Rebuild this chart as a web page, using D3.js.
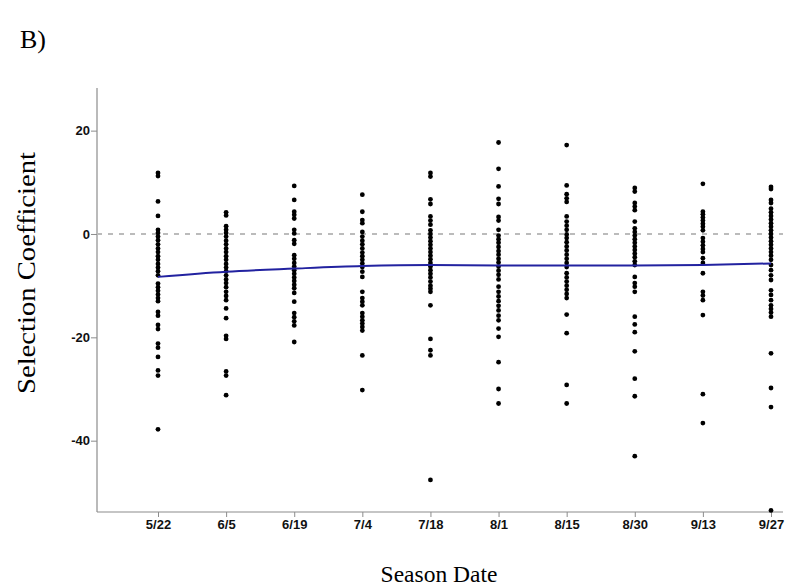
<!DOCTYPE html>
<html>
<head>
<meta charset="utf-8">
<script src="https://cdn.jsdelivr.net/npm/d3@7"></script>
<style>
  body { margin: 0; background: #fff; }
  .tick text { font-family: "Liberation Sans", Arial, sans-serif; font-weight: bold; font-size: 13px; fill: #111; }
  .titulo { font-family: "Liberation Serif", "Times New Roman", serif; fill: #000; }
</style>
</head>
<body>
<script>
// fechas de muestreo (eje x)
var fechas = ["5/22", "6/5", "6/19", "7/4", "7/18", "8/1", "8/15", "8/30", "9/13", "9/27"]

// coeficientes de seleccion por fecha
var s_0522 = [11.8, 11.2, 6.3, 3.5, 0.8, 0.2, -0.5, -1.2, -2.0, -2.8, -3.5, -4.3, -5.0, -5.8, -6.5, -7.2, -8.0, -9.6, -10.3, -11.0, -11.7, -12.4, -13.0, -15.1, -15.8, -17.6, -18.4, -21.2, -22.0, -23.8, -26.4, -27.4, -37.8]
var s_0605 = [4.2, 3.6, 1.5, 0.8, 0.2, -0.5, -1.3, -2.0, -2.8, -3.5, -4.3, -5.0, -5.8, -6.5, -7.2, -8.0, -8.8, -9.5, -10.3, -11.2, -12.0, -12.8, -14.4, -16.3, -19.7, -20.3, -26.6, -27.4, -31.2]
var s_0619 = [9.3, 6.6, 4.3, 3.7, 3.0, 0.8, 0.1, -1.2, -1.9, -4.1, -4.8, -5.6, -6.3, -7.0, -7.7, -8.4, -9.1, -9.8, -10.5, -11.4, -13.1, -15.3, -16.1, -16.9, -17.7, -20.9]
var s_0704 = [7.6, 4.3, 2.7, 2.1, 0.4, -0.5, -1.3, -2.0, -2.8, -3.6, -4.3, -5.0, -5.7, -6.4, -7.3, -8.3, -11.2, -12.4, -13.1, -13.8, -15.3, -16.0, -16.7, -17.3, -18.0, -18.7, -23.5, -30.2]
var s_0718 = [11.8, 11.1, 6.7, 5.8, 3.4, 2.6, 1.8, 0.7, 0.0, -0.7, -1.4, -2.1, -2.8, -3.5, -4.2, -4.9, -5.6, -6.3, -7.0, -7.7, -8.4, -9.2, -10.0, -10.6, -11.2, -13.8, -20.3, -22.5, -23.5, -47.6]
var s_0801 = [17.7, 12.6, 9.2, 6.8, 5.8, 3.3, 2.6, 0.8, -0.3, -1.0, -1.7, -2.5, -3.3, -4.0, -4.8, -5.5, -6.3, -7.1, -7.9, -8.8, -10.2, -11.2, -12.1, -13.0, -13.9, -14.8, -15.8, -16.7, -18.3, -19.9, -24.8, -30.0, -32.8]
var s_0815 = [17.2, 9.4, 7.7, 6.9, 6.2, 3.4, 2.4, 1.6, 0.8, -0.1, -0.8, -1.6, -2.4, -3.2, -4.0, -4.8, -5.6, -6.4, -7.6, -8.4, -9.2, -10.0, -10.8, -11.6, -12.4, -15.6, -19.2, -29.2, -32.8]
var s_0830 = [8.9, 8.2, 6.0, 5.3, 4.6, 2.4, 1.1, 0.4, -0.3, -1.0, -1.7, -2.4, -3.1, -3.8, -4.5, -5.3, -6.0, -8.3, -9.5, -10.2, -11.2, -16.0, -17.5, -19.0, -22.7, -28.0, -31.4, -43.0]
var s_0913 = [9.7, 4.3, 3.8, 3.2, 2.6, 2.0, 1.4, 0.7, -0.8, -1.5, -2.2, -2.9, -3.5, -4.7, -5.6, -7.6, -11.2, -11.9, -12.8, -15.7, -31.0, -36.6]
var s_0927 = [9.1, 8.7, 6.6, 6.0, 4.9, 4.2, 3.5, 2.8, 2.1, 1.4, 0.7, 0.0, -0.7, -1.4, -2.1, -2.8, -3.5, -4.2, -5.0, -6.0, -7.0, -8.0, -8.9, -10.9, -11.8, -12.8, -13.8, -14.5, -15.2, -16.0, -23.1, -29.8, -33.5, -53.5]

// curva ajustada (media suavizada) por fecha
var ajuste = [-8.3, -7.3, -6.7, -6.2, -6.0, -6.1, -6.1, -6.1, -6.0, -5.7]

// ticks del eje y
var ticksY = [-40, -20, 0, 20]

var series = [s_0522, s_0605, s_0619, s_0704, s_0718, s_0801, s_0815, s_0830, s_0913, s_0927]

// tabla larga fecha / valor para los puntos
var puntos = []
series.forEach(function (vals, i) {
    vals.forEach(function (v) { puntos.push({fecha: fechas[i], valor: v}) })
})

var ancho = 811, alto = 587
var margin = {top: 88, right: 28, bottom: 75, left: 97}
var width = ancho - margin.left - margin.right
var height = alto - margin.top - margin.bottom

var svg = d3.select("body")
    .append("svg")
        .attr("width", ancho)
        .attr("height", alto)

var g = svg.append("g")
    .attr("transform", "translate(" + margin.left + "," + margin.top + ")")

// EJE X
var x = d3.scalePoint()
    .domain(fechas)
    .range([61, width - 12])

// EJE Y
var y = d3.scaleLinear()
    .domain([-53.8, 28.25])
    .range([height, 0])

var ejeX = g.append("g")
    .attr("transform", "translate(0," + height + ")")
    .call(d3.axisBottom(x).tickSize(5).tickPadding(3))
ejeX.select(".domain").remove()

// guion normal en los negativos
var ejeY = g.append("g")
    .call(d3.axisLeft(y).tickValues(ticksY).tickSize(6).tickPadding(1).tickFormat(d => String(d)))
ejeY.select(".domain").remove()

g.selectAll(".tick line").attr("stroke", "#8c8c8c")

// lineas de los ejes
g.append("line")
    .attr("x1", 0).attr("x2", width)
    .attr("y1", height).attr("y2", height)
    .attr("stroke", "#8c8c8c").attr("stroke-width", 1.2)
g.append("line")
    .attr("x1", 0).attr("x2", 0)
    .attr("y1", 0).attr("y2", height)
    .attr("stroke", "#8c8c8c").attr("stroke-width", 1.2)

// referencia en cero
g.append("line")
    .attr("x1", 0).attr("x2", width)
    .attr("y1", y(0)).attr("y2", y(0))
    .attr("stroke", "#bbbbbb")
    .attr("stroke-width", 2)
    .attr("stroke-dasharray", "5,6")

// puntos
g.append("g")
    .selectAll("circle")
    .data(puntos)
    .enter()
    .append("circle")
        .attr("cx", d => x(d.fecha))
        .attr("cy", d => y(d.valor))
        .attr("r", 2.4)
        .attr("fill", "#000")

// curva ajustada
var linea = d3.line()
    .x((d, i) => x(fechas[i]))
    .y(d => y(d))
    .curve(d3.curveMonotoneX)

g.append("path")
    .datum(ajuste)
    .attr("fill", "none")
    .attr("stroke", "#2222a0")
    .attr("stroke-width", 2)
    .attr("d", linea)

// textos
svg.append("text")
    .attr("class", "titulo")
    .attr("x", 20)
    .attr("y", 48)
    .style("font-size", "26px")
    .text("B)")

svg.append("text")
    .attr("class", "titulo")
    .attr("transform", "translate(35,273) rotate(-90)")
    .attr("text-anchor", "middle")
    .attr("textLength", 242)
    .attr("lengthAdjust", "spacingAndGlyphs")
    .style("font-size", "25px")
    .text("Selection Coefficient")

svg.append("text")
    .attr("class", "titulo")
    .attr("x", 439)
    .attr("y", 582)
    .attr("text-anchor", "middle")
    .style("font-size", "23.5px")
    .text("Season Date")
</script>
</body>
</html>
